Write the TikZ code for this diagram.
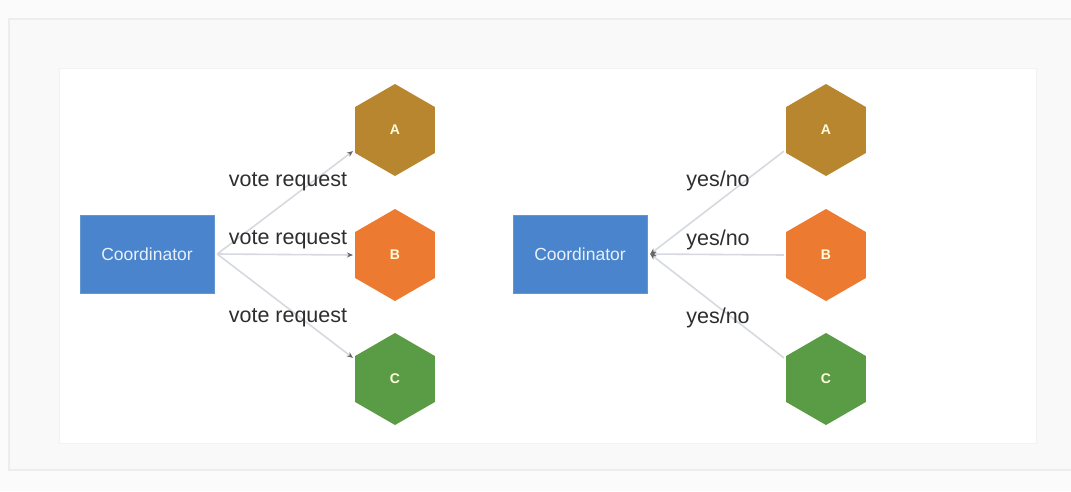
\documentclass[tikz,border=0pt]{standalone}
\usepackage{fontspec}
\setmainfont{Liberation Sans}
\usetikzlibrary{shapes.geometric,arrows.meta}
\definecolor{coordblue}{HTML}{4A84CC}
\definecolor{hexA}{HTML}{B8862F}
\definecolor{hexB}{HTML}{EC7A30}
\definecolor{hexC}{HTML}{5A9C45}
\definecolor{linegray}{HTML}{D6DAE0}
\definecolor{txt}{HTML}{2E2E2E}
\tikzset{
  coordbox/.style={draw=coordblue!85!white, fill=coordblue, minimum width=134pt, minimum height=78pt, inner sep=0pt, text=white!88!coordblue, font=\fontsize{17.5}{17.5}\selectfont},
  hexnode/.style={regular polygon, regular polygon sides=6, shape border rotate=30, minimum size=92pt, inner sep=0pt, text=white!85!yellow, font=\bfseries\fontsize{14}{14}\selectfont},
  conn/.style={draw=linegray, line width=1.6pt, -{Stealth[length=6pt,width=5pt,color=gray!80!black]}},
  lbl/.style={text=txt, font=\fontsize{21.5}{21.5}\selectfont, inner sep=0pt}
}
\begin{document}
\begin{tikzpicture}[x=1pt,y=-1pt]
\useasboundingbox (0,0) rectangle (1071,491);
\fill[white!97!gray] (0,0) rectangle (1071,491);
\draw[fill=white!95!gray, draw=white!86!gray, line width=2pt] (9,19) rectangle (1075,470);
\draw[fill=white, draw=white!90!gray, line width=1pt] (59,68) rectangle (1036,443);

% left part
\node[coordbox] (L) at (147,254) {Coordinator};
\node[hexnode, fill=hexA] (A1) at (395,130) {A};
\node[hexnode, fill=hexB] (B1) at (395,255) {B};
\node[hexnode, fill=hexC] (C1) at (395,379) {C};
\draw[conn] ([xshift=3pt]L.east) -- ([shift={(-2pt,2pt)}]A1.210);
\draw[conn] ([xshift=3pt]L.east) -- ([xshift=-2pt]B1.west);
\draw[conn] ([xshift=3pt]L.east) -- ([shift={(-2pt,-2pt)}]C1.150);
\node[lbl] (l1) at (288,182) {vote request};
\node[lbl] (l2) at (288,240) {vote request};
\node[lbl] (l3) at (288,318) {vote request};

% right part
\node[coordbox] (R) at (580,254) {Coordinator};
\node[hexnode, fill=hexA] (A2) at (826,130) {A};
\node[hexnode, fill=hexB] (B2) at (826,255) {B};
\node[hexnode, fill=hexC] (C2) at (826,379) {C};
\draw[conn] ([shift={(-2pt,2pt)}]A2.210) -- ([xshift=3pt]R.east);
\draw[conn] ([xshift=-2pt]B2.west) -- ([xshift=3pt]R.east);
\draw[conn] ([shift={(-2pt,-2pt)}]C2.150) -- ([xshift=3pt]R.east);
\node[lbl] (r1) at (718,181) {yes/no};
\node[lbl] (r2) at (718,240) {yes/no};
\node[lbl] (r3) at (718,318) {yes/no};
\end{tikzpicture}
\end{document}
